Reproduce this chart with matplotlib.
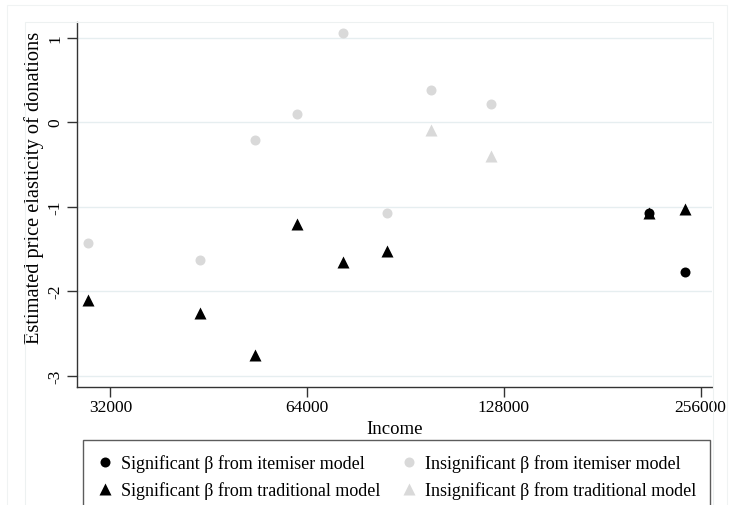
import numpy as np
import matplotlib.pyplot as plt
from matplotlib.patches import Rectangle
from matplotlib.lines import Line2D

# income levels where the estimates sit
income_all = [29600, 43900, 53300, 61800, 72600, 84800, 99000, 122300, 213400, 242100]

# significant itemiser estimates (black circles)
sig_item_x = [213400, 242100]
sig_item_y = [-1.07, -1.78]

# insignificant itemiser estimates (grey circles)
insig_item_x = [29600, 43900, 53300, 61800, 72600, 84800, 99000, 122300]
insig_item_y = [-1.43, -1.63, -0.21, 0.10, 1.06, -1.08, 0.38, 0.21]

# significant traditional estimates (black triangles)
sig_trad_x = [29600, 43900, 53300, 61800, 72600, 84800, 213400, 242100]
sig_trad_y = [-2.11, -2.26, -2.76, -1.20, -1.66, -1.53, -1.08, -1.03]

# insignificant traditional estimates (grey triangles)
insig_trad_x = [99000, 122300]
insig_trad_y = [-0.09, -0.40]

xticks = [32000, 64000, 128000, 256000]
yticks = [-3, -2, -1, 0, 1]

plt.rcParams['font.family'] = ['Liberation Serif', 'DejaVu Serif']

W, H = 729, 506
fig = plt.figure(figsize=(W / 100, H / 100), dpi=100)

# faint stata style region boxes
fig.patches.append(Rectangle((6.7 / W, -0.05), (727 - 6.7) / W, 1 - 5.7 / H + 0.05,
                             transform=fig.transFigure, fill=False, ec='#f0f3f3', lw=0.8))
fig.patches.append(Rectangle((25 / W, -0.05), (713 - 25) / W, 1 - 22.7 / H + 0.05,
                             transform=fig.transFigure, fill=False, ec='#edf1f1', lw=0.8))

ax = fig.add_axes([77 / W, 1 - 388 / H, (712 - 77) / W, (388 - 22.7) / H])
ax.set_xscale('log', base=2)

grey = '#d9d9d9'
ax.plot(insig_item_x, insig_item_y, 'o', color=grey, ms=7.2, mec='none', zorder=3)
ax.plot(insig_trad_x, insig_trad_y, '^', color=grey, ms=8.5, mec='none', zorder=3)
ax.plot(sig_trad_x, sig_trad_y, '^', color='black', ms=8.5, mec='none', zorder=4)
ax.plot(sig_item_x, sig_item_y, 'o', color='black', ms=7.2, mec='none', zorder=5)

ax.set_xlim(28440, 266500)
ax.set_ylim(-3.136, 1.19)

ax.set_xticks(xticks)
ax.set_xticklabels([str(t) for t in xticks])
ax.xaxis.set_minor_locator(plt.NullLocator())
ax.set_yticks(yticks)
ax.set_yticklabels([str(t) for t in yticks], rotation=90, va='center')

ax.grid(axis='y', color='#e6eef0', lw=1)
ax.set_axisbelow(True)
for s in ['top', 'right']:
    ax.spines[s].set_visible(False)
for s in ['left', 'bottom']:
    ax.spines[s].set_color('#333333')
    ax.spines[s].set_linewidth(1)
ax.tick_params(length=7, width=1, color='#333333', labelsize=12.5, pad=3)
ax.tick_params(axis='x', pad=2)

ax.set_xlabel('Income', fontsize=13.5, labelpad=3)
ax.set_ylabel('Estimated price elasticity of donations', fontsize=14.7)
ax.yaxis.set_label_coords(-0.052, 0.547)

handles = [
    Line2D([], [], ls='none', marker='o', color='black', ms=7.2, mec='none'),
    Line2D([], [], ls='none', marker='^', color='black', ms=8.5, mec='none'),
    Line2D([], [], ls='none', marker='o', color=grey, ms=7.2, mec='none'),
    Line2D([], [], ls='none', marker='^', color=grey, ms=8.5, mec='none'),
]
labels = [
    'Significant β from itemiser model',
    'Significant β from traditional model',
    'Insignificant β from itemiser model',
    'Insignificant β from traditional model',
]
leg = fig.legend(handles, labels, ncol=2, loc='upper left',
                 bbox_to_anchor=(83 / W, 1 - 441 / H), fontsize=13,
                 frameon=True, fancybox=False, edgecolor='#333333',
                 handlelength=0.8, handletextpad=0.48, columnspacing=1.2,
                 labelspacing=0.5, borderpad=0.8, borderaxespad=0)
leg.get_frame().set_linewidth(1)

fig.savefig('out.png', dpi=100)
